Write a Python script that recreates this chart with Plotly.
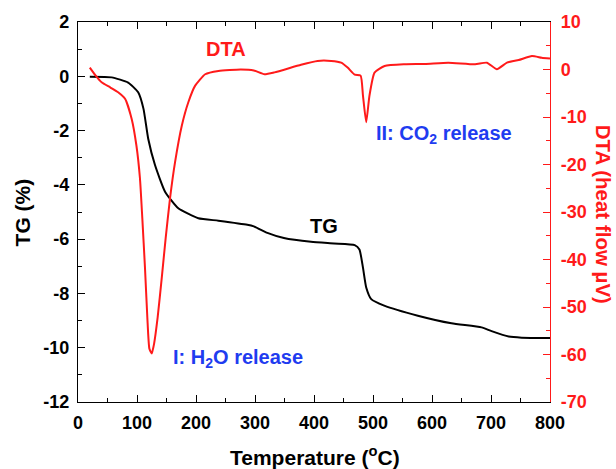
import plotly.graph_objects as go

# Thermogravimetric (TG) curve: mass change in % vs temperature
tg_temp = [20, 57, 85, 102, 111, 119, 130.5, 147.5, 170, 204, 238, 287, 298, 321, 349,
           395, 434, 469, 477, 483, 488.5, 497, 519, 576, 633, 684, 701, 730, 752, 800]
tg_mass = [-0.02, -0.04, -0.23, -0.59, -1.2, -2.3, -3.27, -4.25, -4.86, -5.23, -5.32, -5.47,
           -5.53, -5.77, -5.96, -6.1, -6.16, -6.22, -6.38, -7.05, -7.78, -8.21, -8.45, -8.82,
           -9.1, -9.25, -9.39, -9.59, -9.63, -9.64]

# Differential thermal analysis (DTA) curve: heat flow in µV vs temperature
dta_temp = [20, 30, 40, 55, 68, 80, 91, 99, 105, 109, 113.5, 117.5, 121, 125, 129, 135, 142,
            148.6, 156, 164.5, 176, 187, 198.6, 215.6, 238, 276, 298, 316, 333, 378, 406, 429,
            446, 457, 469, 479, 483, 488.5, 494, 502.6, 519.7, 553.7, 588, 627.6, 673, 693,
            710, 727, 747, 769.4, 786, 800]
dta_flow = [0.4, -1.3, -2.7, -3.8, -4.8, -6.2, -10.4, -16, -22.9, -31.3, -41.7, -52.2, -58.8,
            -59.8, -57.7, -52.2, -43.8, -35.5, -27.1, -19.5, -11.8, -6.9, -3.4, -1.0, -0.3, 0.0,
            -0.2, -1.0, -0.6, 1.0, 1.8, 1.8, 1.44, 0.4, -1.1, -1.3, -5.5, -11.1, -5.5, -0.65,
            0.74, 1.1, 1.16, 1.44, 1.1, 1.44, 0.04, 1.44, 2.0, 2.83, 2.48, 2.3]

x_ticks = [0, 100, 200, 300, 400, 500, 600, 700, 800]
tg_ticks = [2, 0, -2, -4, -6, -8, -10, -12]
dta_ticks = [10, 0, -10, -20, -30, -40, -50, -60, -70]

FONT = "Liberation Sans"
RED = "#ff1a1a"
BLUE = "#1f3cf0"


def labels(vals):
    # plain hyphen-minus for negative tick labels
    return [f"<b>{v}</b>" for v in vals]


def midpoints(vals):
    s = sorted(vals)
    return [(a + b) / 2 for a, b in zip(s[:-1], s[1:])]


fig = go.Figure()
fig.add_trace(go.Scatter(x=tg_temp, y=tg_mass, mode="lines", name="TG",
                         line=dict(color="black", width=2, shape="spline", smoothing=0.5),
                         yaxis="y"))
fig.add_trace(go.Scatter(x=dta_temp, y=dta_flow, mode="lines", name="DTA",
                         line=dict(color=RED, width=2, shape="spline", smoothing=0.5),
                         yaxis="y2"))

fig.update_layout(
    width=616, height=469, autosize=False,
    margin=dict(l=78, r=66, t=19, b=67),
    paper_bgcolor="white", plot_bgcolor="white",
    showlegend=False,
    font=dict(family=FONT),
    xaxis=dict(range=[0, 800], tickmode="array", tickvals=x_ticks, ticktext=labels(x_ticks),
               ticks="inside", ticklen=7, tickwidth=1.3,
               tickcolor="black", showline=True, linecolor="black", linewidth=1.3,
               mirror="ticks", showgrid=False, zeroline=False,
               tickfont=dict(family=FONT, size=18, color="black"),
               ticklabelstandoff=4,
               minor=dict(tickmode="array", tickvals=midpoints(x_ticks), ticks="inside",
                          ticklen=4, tickwidth=1.3, tickcolor="black", showgrid=False)),
    yaxis=dict(range=[-12, 2], tickmode="array", tickvals=tg_ticks, ticktext=labels(tg_ticks),
               ticks="inside", ticklen=7, tickwidth=1.3,
               tickcolor="black", showline=True, linecolor="black", linewidth=1.3,
               showgrid=False, zeroline=False,
               tickfont=dict(family=FONT, size=18, color="black"),
               ticklabelstandoff=4,
               minor=dict(tickmode="array", tickvals=midpoints(tg_ticks), ticks="inside",
                          ticklen=4, tickwidth=1.3, tickcolor="black", showgrid=False)),
    yaxis2=dict(range=[-70, 10], tickmode="array", tickvals=dta_ticks,
                ticktext=labels(dta_ticks), overlaying="y", side="right",
                ticks="inside", ticklen=7, tickwidth=1.3, tickcolor=RED,
                showline=True, linecolor=RED, linewidth=1.3,
                showgrid=False, zeroline=False,
                tickfont=dict(family=FONT, size=18, color=RED),
                ticklabelstandoff=6,
                minor=dict(tickmode="array", tickvals=midpoints(dta_ticks), ticks="inside",
                           ticklen=4, tickwidth=1.3, tickcolor=RED, showgrid=False)),
)

annotations = [
    # axis titles
    dict(text="<b>Temperature (<sup>o</sup>C)</b>", xref="paper", yref="paper", x=0.502,
         y=-0.141, showarrow=False, font=dict(family=FONT, size=21, color="black"),
         xanchor="center", yanchor="middle"),
    dict(text="<b>TG (%)</b>", xref="paper", yref="paper", x=-0.1186, y=0.499, textangle=-90,
         showarrow=False, font=dict(family=FONT, size=21, color="black"),
         xanchor="center", yanchor="middle"),
    dict(text="<b>DTA (heat flow µV)</b>", xref="paper", yref="paper", x=1.114, y=0.4935,
         textangle=90, showarrow=False, font=dict(family=FONT, size=20.5, color=RED),
         xanchor="center", yanchor="middle"),
    # curve labels
    dict(text="<b>DTA</b>", x=250, y=1.0, xref="x", yref="y", showarrow=False,
         font=dict(family=FONT, size=20, color=RED)),
    dict(text="<b>TG</b>", x=417, y=-5.5, xref="x", yref="y", showarrow=False,
         font=dict(family=FONT, size=20, color="black")),
    # event labels
    dict(text="<b>II: CO<sub>2</sub> release</b>", x=621, y=-13.6, xref="x", yref="y2",
         showarrow=False, font=dict(family=FONT, size=20, color=BLUE)),
    dict(text="<b>I: H<sub>2</sub>O release</b>", x=272, y=-10.4, xref="x", yref="y",
         showarrow=False, font=dict(family=FONT, size=20, color=BLUE)),
]
fig.update_layout(annotations=annotations)

fig.write_html("out.html")
